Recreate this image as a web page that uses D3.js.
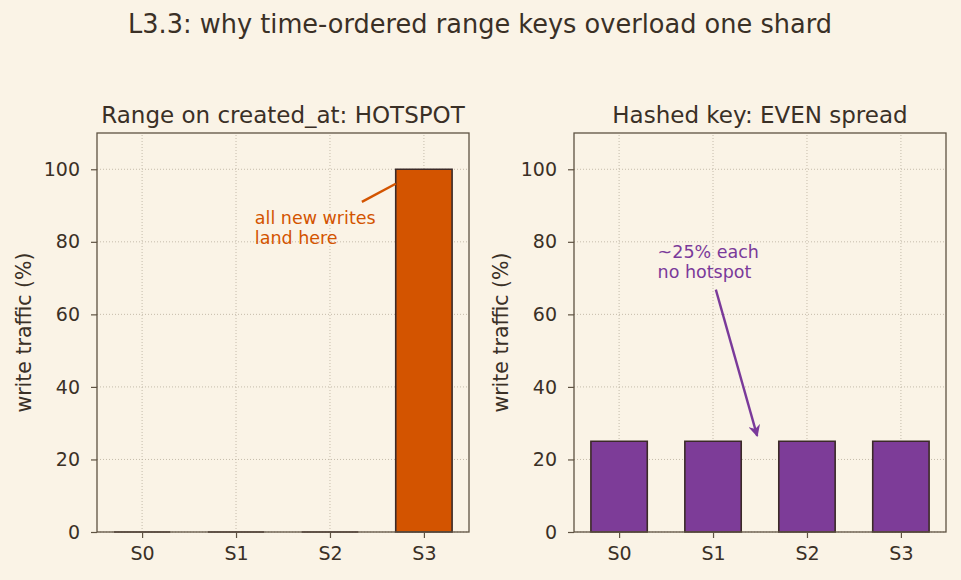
<!DOCTYPE html>
<html><head><meta charset="utf-8">
<script src="https://cdn.jsdelivr.net/npm/d3@7"></script>
<style>body{margin:0;background:#faf3e6;} text{font-family:"DejaVu Sans",sans-serif;}</style>
</head><body>
<svg id="c" width="961" height="580"></svg>
<script>
const shards = ["S0","S1","S2","S3"];
const rangeTraffic = [0, 0, 0, 100];
const hashTraffic = [25, 25, 25, 25];
const yTicks = [0, 20, 40, 60, 80, 100];
const suptitle = "L3.3: why time-ordered range keys overload one shard";
const titles = ["Range on created_at: HOTSPOT", "Hashed key: EVEN spread"];

const bg = "#faf3e6", ink = "#3a3026", spine = "#5e5242", grid = "#b8ad9c";
const svg = d3.select("#c");
svg.append("rect").attr("width",961).attr("height",580).attr("fill",bg);
svg.append("text").attr("x",480).attr("y",33).attr("text-anchor","middle")
  .attr("font-size",26).attr("fill",ink).attr("textLength",704).attr("lengthAdjust","spacingAndGlyphs").text(suptitle);

function panel(x0, x1, data, color, title){
  const y0 = 532, y1 = 133;
  const g = svg.append("g");
  const x = d3.scaleLinear().domain([-0.48, 3.48]).range([x0, x1]);
  const y = d3.scaleLinear().domain([0, 110]).range([y0, y1]);
  // grid
  g.selectAll(".gy").data(yTicks).join("line").attr("x1",x0).attr("x2",x1)
    .attr("y1",d=>y(d)).attr("y2",d=>y(d)).attr("stroke",grid).attr("stroke-width",0.8).attr("stroke-dasharray","1,2");
  g.selectAll(".gx").data(shards).join("line").attr("x1",(d,i)=>x(i)).attr("x2",(d,i)=>x(i))
    .attr("y1",y0).attr("y2",y1).attr("stroke",grid).attr("stroke-width",0.8).attr("stroke-dasharray","1,2");
  // bars
  const bw = x(0.6) - x(0);
  g.selectAll(".bar").data(data).join("path")
    .attr("d",(d,i)=>`M${x(i)-bw/2},${y(0)}H${x(i)+bw/2}V${y(d)}H${x(i)-bw/2}Z`)
    .attr("fill",color).attr("stroke","#3b2a28").attr("stroke-width",1.6);
  // spines
  g.append("rect").attr("x",x0).attr("y",y1).attr("width",x1-x0).attr("height",y0-y1)
    .attr("fill","none").attr("stroke",spine).attr("stroke-width",1.3);
  // axes
  const ax = g.append("g").attr("transform",`translate(0,${y0})`)
    .call(d3.axisBottom(x).tickValues([0,1,2,3]).tickFormat(i=>shards[i]).tickSize(6).tickPadding(9));
  const ay = g.append("g").attr("transform",`translate(${x0},0)`)
    .call(d3.axisLeft(y).tickValues(yTicks).tickSize(6).tickPadding(11));
  [ax, ay].forEach(a=>{
    a.select(".domain").remove();
    a.selectAll("line").attr("stroke",spine).attr("stroke-width",1.2);
    a.selectAll("text").attr("font-size",19).attr("fill",ink);
  });
  g.append("text").attr("x",(x0+x1)/2).attr("y",y1-10).attr("text-anchor","middle")
    .attr("font-size",23).attr("fill",ink).text(title);
  g.append("text").attr("transform",`translate(${x0-66},${(y0+y1)/2}) rotate(-90)`)
    .attr("text-anchor","middle").attr("font-size",20.5).attr("fill",ink).text("write traffic (%)");
  return {g, x, y};
}

const L = panel(97, 469, rangeTraffic, "#d35400", titles[0]);
const R = panel(574, 946, hashTraffic, "#7d3c98", titles[1]);

// left annotation
const lc = "#d35400";
L.g.append("line").attr("x1",L.x(2.34)).attr("y1",L.y(91)).attr("x2",L.x(2.7)).attr("y2",L.y(96))
  .attr("stroke",lc).attr("stroke-width",2.4);
const lt = L.g.append("text").attr("y",L.y(85)).attr("font-size",17.5).attr("fill",lc);
lt.append("tspan").attr("x",L.x(1.2)).text("all new writes");
lt.append("tspan").attr("x",L.x(1.2)).attr("dy",20).text("land here");

// right annotation
const pc = "#7a3a9a";
svg.append("defs").append("marker").attr("id","ah").attr("viewBox","0 0 10 10").attr("refX",9).attr("refY",5)
  .attr("markerWidth",5).attr("markerHeight",5).attr("orient","auto")
  .append("path").attr("d","M0,0 L10,5 L0,10 L3,5 Z").attr("fill",pc);
R.g.append("line").attr("x1",R.x(1.03)).attr("y1",R.y(66.8)).attr("x2",R.x(1.47)).attr("y2",R.y(26.5))
  .attr("stroke",pc).attr("stroke-width",2.4).attr("marker-end","url(#ah)");
const rt = R.g.append("text").attr("font-size",17.5).attr("fill",pc).attr("y",R.y(75.5));
rt.append("tspan").attr("x",R.x(0.41)).text("~25% each");
rt.append("tspan").attr("x",R.x(0.41)).attr("dy",20).text("no hotspot");
</script>
</body></html>
